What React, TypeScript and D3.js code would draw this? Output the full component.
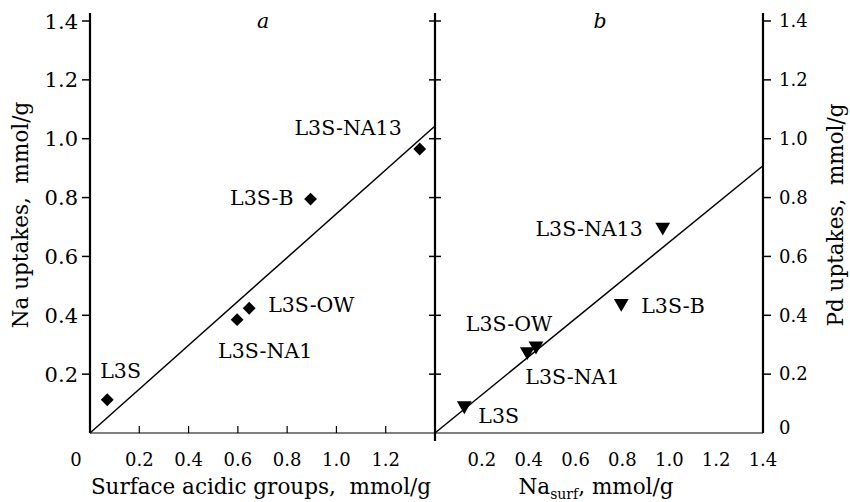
import React from "react";
import * as d3 from "d3";

const samples = ["L3S", "L3S-NA1", "L3S-OW", "L3S-B", "L3S-NA13"];
const surfaceAcidic = [0.07, 0.597, 0.646, 0.895, 1.338];
const naUptake = [0.113, 0.385, 0.424, 0.795, 0.965];
const naSurf = [0.125, 0.394, 0.431, 0.795, 0.972];
const pdUptake = [0.093, 0.277, 0.296, 0.441, 0.7];
const fitA = [[0, 0], [1.4, 1.043]];
const fitB = [[0, 0], [1.4, 0.908]];
const yTicks = [0, 0.2, 0.4, 0.6, 0.8, 1.0, 1.2, 1.4];
const xTicksA = [0.2, 0.4, 0.6, 0.8, 1.0, 1.2];
const xTicksB = [0.2, 0.4, 0.6, 0.8, 1.0, 1.2, 1.4];

// label placement relative to marker: [dx, dy, anchor]
const labelPosA: [number, number, string][] = [
  [-7, -22, "start"],
  [-19, 38, "start"],
  [19, 4, "start"],
  [-17, 6, "end"],
  [-18, -14, "end"],
];
const labelPosB: [number, number, string][] = [
  [14, 17, "start"],
  [-2, 33, "start"],
  [-27, -15, "middle"],
  [20, 10, "start"],
  [-20, 9, "end"],
];

const FONT = "DejaVu Serif";

export default function App() {
  const xA = d3.scaleLinear().domain([0, 1.4]).range([90, 435]);
  const xB = d3.scaleLinear().domain([0, 1.4]).range([435, 763]);
  const y = d3.scaleLinear().domain([0, 1.4]).range([433, 21]);
  const yTop = 13;
  const lineA = d3.line<number[]>().x((d) => xA(d[0])).y((d) => y(d[1]));
  const lineB = d3.line<number[]>().x((d) => xB(d[0])).y((d) => y(d[1]));
  const diamond = d3.symbol().type(d3.symbolDiamond2).size(105)();
  const tri = d3.symbol().type(d3.symbolTriangle).size(95)();
  const fmt = d3.format(".1f");
  const txt = { fontSize: 18, fill: "#000" } as const;
  const txtL = { fontSize: 21, fill: "#000" } as const;
  const lab = { fontSize: 20.5, fill: "#000" } as const;
  const ttl = { fontSize: 21.5, fill: "#000" } as const;

  return (
    <svg width={850} height={502} style={{ position: "absolute", left: 0, top: 0, background: "#fff", fontFamily: FONT }}>
      <rect width={850} height={502} fill="#fff" />
      {/* axes */}
      <line x1={xA(0)} x2={xB(1.4)} y1={y(0)} y2={y(0)} stroke="#000" strokeWidth={1.2} />
      <line x1={xA(0)} x2={xA(0)} y1={yTop} y2={y(0)} stroke="#000" strokeWidth={2.2} />
      <line x1={xB(0)} x2={xB(0)} y1={yTop} y2={y(0) + 8} stroke="#000" strokeWidth={2.2} />
      <line x1={xB(1.4)} x2={xB(1.4)} y1={yTop} y2={y(0)} stroke="#000" strokeWidth={2.2} />
      {yTicks.map((t) => (
        <g key={"yt" + t}>
          {t > 0 && <line x1={xA(0) - 8} x2={xA(0)} y1={y(t)} y2={y(t)} stroke="#000" strokeWidth={1.5} />}
          {t > 0 && <line x1={xB(0) - 6} x2={xB(0) + 6} y1={y(t)} y2={y(t)} stroke="#000" strokeWidth={1.5} />}
          {t > 0 && <line x1={xB(1.4)} x2={xB(1.4) + 8} y1={y(t)} y2={y(t)} stroke="#000" strokeWidth={1.5} />}
          {t > 0 && (
            <text x={xA(0) - 12} y={y(t)} dy="0.36em" textAnchor="end" {...txtL}>
              {fmt(t)}
            </text>
          )}
          <text x={xB(1.4) + 16} y={y(t) - (t === 0 ? 5 : 0)} dy="0.35em" textAnchor="start" {...txt}>
            {t === 0 ? "0" : fmt(t)}
          </text>
        </g>
      ))}
      {xTicksA.map((t) => (
        <g key={"xa" + t}>
          <line x1={xA(t)} x2={xA(t)} y1={y(0) - 7} y2={y(0)} stroke="#000" strokeWidth={1.2} />
          <text x={xA(t)} y={466} textAnchor="middle" {...txt}>
            {fmt(t)}
          </text>
        </g>
      ))}
      <text x={xA(0) - 14} y={466} textAnchor="middle" {...txt}>0</text>
      {xTicksB.map((t) => (
        <text key={"xb" + t} x={xB(t)} y={466} textAnchor="middle" {...txt}>
          {fmt(t)}
        </text>
      ))}
      {/* panel letters */}
      <text x={263} y={28} textAnchor="middle" fontStyle="italic" {...lab}>a</text>
      <text x={600} y={28} textAnchor="middle" fontStyle="italic" {...lab}>b</text>
      {/* fit lines */}
      <path d={lineA(fitA) || ""} fill="none" stroke="#000" strokeWidth={1.5} />
      <path d={lineB(fitB) || ""} fill="none" stroke="#000" strokeWidth={1.5} />
      {/* points a */}
      {samples.map((s, i) => {
        const px = xA(surfaceAcidic[i]);
        const py = y(naUptake[i]);
        const [dx, dy, anchor] = labelPosA[i];
        return (
          <g key={"a" + s}>
            <path d={diamond || ""} transform={`translate(${px},${py})`} fill="#000" />
            <text x={px + dx} y={py + dy} textAnchor={anchor as any} {...lab}>{s}</text>
          </g>
        );
      })}
      {samples.map((s, i) => {
        const px = xB(naSurf[i]);
        const py = y(pdUptake[i]);
        const [dx, dy, anchor] = labelPosB[i];
        return (
          <g key={"b" + s}>
            <path d={tri || ""} transform={`translate(${px},${py}) rotate(180)`} fill="#000" />
            <text x={px + dx} y={py + dy} textAnchor={anchor as any} {...lab}>{s}</text>
          </g>
        );
      })}
      {/* axis titles */}
      <text x={261} y={494} textAnchor="middle" {...ttl}>
        Surface acidic groups,{"\u00a0\u00a0"}mmol/g
      </text>
      <text x={596} y={494} textAnchor="middle" {...ttl}>
        Na<tspan fontSize={14} dy={5}>surf</tspan>
        <tspan dy={-5}>, mmol/g</tspan>
      </text>
      <text transform={`translate(28,215) rotate(-90)`} textAnchor="middle" {...ttl}>
        Na uptakes,{"\u00a0\u00a0"}mmol/g
      </text>
      <text transform={`translate(843,215) rotate(-90)`} textAnchor="middle" {...ttl}>
        Pd uptakes,{"\u00a0\u00a0"}mmol/g
      </text>
    </svg>
  );
}
